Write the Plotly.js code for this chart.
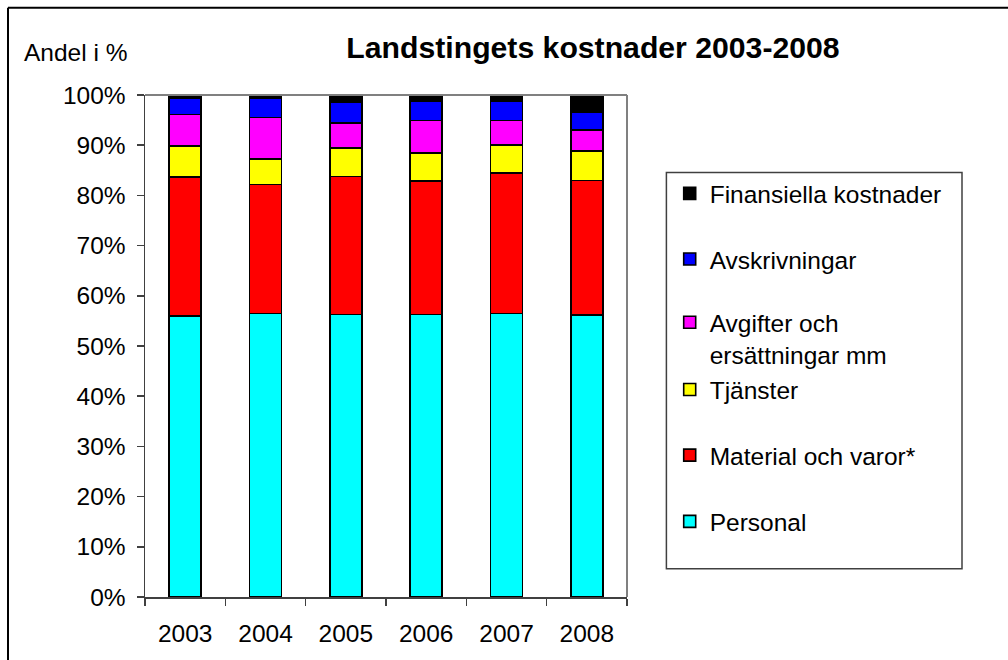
<!DOCTYPE html>
<html>
<head>
<meta charset="utf-8">
<script src="https://cdn.plot.ly/plotly-3.0.1.min.js"></script>
<style>html,body{margin:0;padding:0;background:#fff;}#chart{width:1008px;height:660px;}</style>
</head>
<body>
<div id="chart"></div>
<script>
const years = ["2003", "2004", "2005", "2006", "2007", "2008"];
const personal = [56.0, 56.5, 56.3, 56.3, 56.5, 56.2];
const material = [27.7, 25.7, 27.5, 26.6, 28.0, 26.8];
const tjanster = [6.1, 5.0, 5.7, 5.5, 5.6, 5.8];
const avgifter = [6.3, 8.3, 4.9, 6.5, 4.8, 4.2];
const avskrivningar = [3.3, 3.9, 4.1, 3.8, 3.9, 3.6];
const finansiella = [0.6, 0.6, 1.5, 1.3, 1.2, 3.4];
const yTickVals = [0, 10, 20, 30, 40, 50, 60, 70, 80, 90, 100];
const yTickText = ["0%", "10%", "20%", "30%", "40%", "50%", "60%", "70%", "80%", "90%", "100%"];

const FONT = "Arial, 'Liberation Sans', sans-serif";
const FS = 24.5;
// plot area in pixels
const L = 145.3, R = 627.3, T = 94.7, B = 597.3;
const W = R - L, H = B - T;
const px = v => (v - L) / W;
const py = v => (B - v) / H;

const series = [
  {name: "Personal", y: personal, color: "#00FFFF", legend: "legend6", yc: 521.7},
  {name: "Material och varor*", y: material, color: "#FF0000", legend: "legend5", yc: 455.3},
  {name: "Tjänster", y: tjanster, color: "#FFFF00", legend: "legend4", yc: 389.7},
  {name: "Avgifter och<br>ersättningar mm", y: avgifter, color: "#FF00FF", legend: "legend3", yc: 338.3},
  {name: "Avskrivningar", y: avskrivningar, color: "#0000FF", legend: "legend2", yc: 259},
  {name: "Finansiella kostnader", y: finansiella, color: "#000000", legend: "legend", yc: 193.3}
];

const traces = series.map(s => ({
  type: "bar",
  x: years,
  y: s.y,
  name: s.name,
  legend: s.legend,
  marker: {color: s.color, line: {color: "#000000", width: 1.6}},
  hoverinfo: "x+y+name"
}));

const layout = {
  width: 1008,
  height: 660,
  margin: {l: L, r: 1008 - R, t: T, b: 660 - B, pad: 0},
  paper_bgcolor: "#ffffff",
  plot_bgcolor: "#ffffff",
  font: {family: FONT, size: FS, color: "#000000"},
  barmode: "stack",
  barnorm: "percent",
  bargap: 0.6,
  title: {
    text: "<b>Landstingets kostnader 2003-2008</b>",
    font: {family: FONT, size: 30.2, color: "#000000"},
    x: 593 / 1008, xanchor: "center", xref: "container",
    y: 1 - 47 / 660, yanchor: "middle", yref: "container"
  },
  xaxis: {
    type: "category",
    tickson: "boundaries",
    ticks: "outside", ticklen: 7, tickwidth: 1.5, tickcolor: "#404040",
    showline: true, linecolor: "#404040", linewidth: 1.5,
    showgrid: false, zeroline: false,
    tickfont: {family: FONT, size: FS, color: "#000000"},
    ticklabelstandoff: 14,
    fixedrange: true
  },
  xaxis2: {
    overlaying: "x", anchor: "y", type: "linear", range: [-0.5, 5.5],
    tickvals: [-0.5, 0.5, 1.5, 2.5, 3.5, 4.5, 5.5],
    ticks: "inside", ticklen: 7, tickwidth: 1.5, tickcolor: "#404040",
    showticklabels: false, showline: false, showgrid: false, zeroline: false,
    fixedrange: true
  },
  yaxis: {
    range: [0, 100],
    tickvals: yTickVals, ticktext: yTickText,
    ticks: "outside", ticklen: 7, tickwidth: 1.5, tickcolor: "#404040",
    showline: true, linecolor: "#404040", linewidth: 1.5,
    showgrid: false, zeroline: false,
    tickfont: {family: FONT, size: FS, color: "#000000"},
    ticklabelstandoff: 6,
    fixedrange: true
  },
  yaxis2: {
    overlaying: "y", anchor: "x", range: [0, 100],
    tickvals: yTickVals,
    ticks: "inside", ticklen: 7, tickwidth: 1.5, tickcolor: "#404040",
    showticklabels: false, showline: false, showgrid: false, zeroline: false,
    fixedrange: true
  },
  showlegend: true,
  annotations: [
    {text: "Andel i %", xref: "paper", yref: "paper", x: px(22.7), y: py(51.7),
     xanchor: "left", yanchor: "middle", showarrow: false,
     font: {family: FONT, size: FS, color: "#000000"}}
  ],
  shapes: [
    // top and right plot border
    {type: "line", xref: "paper", yref: "paper", x0: 0, x1: 1, y0: 1, y1: 1, line: {color: "#808080", width: 2}},
    {type: "line", xref: "paper", yref: "paper", x0: 1, x1: 1, y0: 0, y1: 1, line: {color: "#808080", width: 2}},
    // legend box
    {type: "rect", xref: "paper", yref: "paper", x0: px(666.7), x1: px(962.3), y0: py(569), y1: py(172.3),
     line: {color: "#404040", width: 1.5}, fillcolor: "rgba(0,0,0,0)"},
    // outer chart frame (left and top)
    {type: "line", xref: "paper", yref: "paper", x0: px(8.3), x1: px(8.3), y0: py(700), y1: py(7.3), line: {color: "#000000", width: 2}},
    {type: "line", xref: "paper", yref: "paper", x0: px(8.3), x1: px(1050), y0: py(7.3), y1: py(7.3), line: {color: "#000000", width: 2}}
  ]
};

series.forEach(s => {
  layout[s.legend] = {
    x: px(670), xanchor: "left", xref: "paper",
    y: py(s.yc), yanchor: "middle", yref: "paper",
    bgcolor: "rgba(0,0,0,0)", borderwidth: 0,
    valign: "top",
    font: {family: FONT, size: FS, color: "#000000"}
  };
});

Plotly.newPlot("chart", traces, layout, {displayModeBar: false, staticPlot: true});
</script>
</body>
</html>
